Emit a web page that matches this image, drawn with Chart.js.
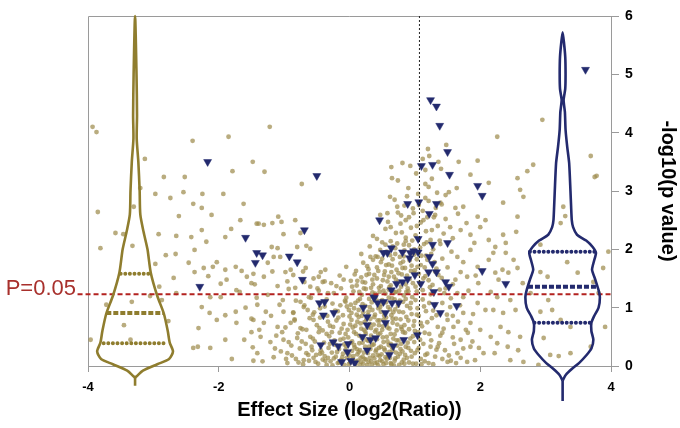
<!DOCTYPE html>
<html>
<head>
<meta charset="utf-8">
<script src="https://cdn.jsdelivr.net/npm/chart.js@4.4.1/dist/chart.umd.min.js"></script>
<style>
  body { margin: 0; background: #fff; }
  canvas { display: block; }
</style>
</head>
<body>
<canvas id="chart" width="680" height="428"></canvas>
<script>
// x ticks / y ticks
const xTicks = [-4, -2, 0, 2, 4];
const yTicks = [0, 1, 2, 3, 4, 5, 6];

// significance line and fold-change marker
const pLine = 1.23;
const pLabel = "P=0.05";
const foldLine = 1.07;

// tan dots, left side
const tanLeft = [
  [-3.93,4.10],[-3.87,4.01],[-2.40,3.86],[-1.85,3.93],[-1.22,4.10],[-3.13,3.55],[-2.84,3.24],[-2.52,3.24],
  [-1.79,3.34],[-1.48,3.50],[-1.30,3.33],[-0.73,3.12],[-2.97,2.95],[-2.74,2.88],[-2.54,2.98],[-2.25,2.95],
  [-1.93,2.95],[-2.39,2.78],[-2.26,2.71],[-1.62,2.78],[-3.85,2.64],[-2.61,2.57],[-2.11,2.59],[-1.67,2.50],
  [-1.42,2.44],[-3.58,2.28],[-3.46,2.26],[-2.92,2.26],[-2.65,2.23],[-2.42,2.21],[-2.26,2.33],[-2.19,2.13],
  [-1.90,2.21],[-1.81,2.35],[-3.81,2.02],[-2.81,1.90],[-2.66,1.92],[-2.37,1.99],[-2.46,1.77],[-2.23,1.68],
  [-2.09,1.70],[-2.03,1.78],[-1.90,1.65],[-1.74,1.70],[-1.65,1.63],[-1.57,1.53],[-2.97,1.75],[-2.37,1.61],
  [-2.16,1.54],[-2.69,1.51],[-1.97,1.41],[-1.88,1.48],[-1.73,1.30],[-1.50,1.42],[-1.47,1.58],[-2.91,1.36],
  [-2.65,1.25],[-2.13,1.18],[-1.97,1.18],[-1.68,1.27],[-1.42,1.17],[-3.72,1.05],[-2.87,1.13],[-2.26,1.01],
  [-2.14,0.91],[-1.90,0.87],[-1.74,0.93],[-1.59,1.00],[-1.50,0.81],[-2.77,0.77],[-2.31,0.65],[-2.03,0.79],
  [-1.73,0.74],[-1.50,0.58],[-3.96,0.45],[-2.39,0.31],[-2.32,0.33],[-2.13,0.31],[-1.90,0.45],[-1.61,0.45],
  [-1.80,0.12],[-1.47,0.09],[-3.30,2.73],[-3.32,2.06],[-3.33,1.10],[-3.35,0.45],[-3.05,1.20],[-3.45,0.70],
  [-3.20,3.05],[-1.39,2.44],[-1.31,2.42],[-1.18,2.45],[-1.09,2.56],[-1.04,2.47],[-1.01,2.26],[-0.83,2.50],
  [-0.75,2.28],[-1.19,2.04],[-1.10,2.02],[-0.80,2.04],[-0.66,2.06],[-0.60,2.01],[-1.25,1.77],[-1.16,1.87],
  [-1.06,1.87],[-0.98,1.61],[-0.90,1.65],[-0.86,1.56],[-0.67,1.68],[-0.44,1.61],[-0.37,1.65],[-0.47,1.53],
  [-0.41,1.44],[-1.31,1.53],[-1.10,1.37],[-0.83,1.34],[-0.60,1.36],[-1.02,1.13],[-0.75,1.10],[-0.70,1.01],
  [-0.06,1.10],[0.02,1.05],[-1.41,1.05],[-1.28,0.93],[-1.01,0.93],[-0.86,0.91],[-0.64,0.96],[-1.47,0.79],
  [-1.31,0.74],[-1.10,0.67],[-0.90,0.74],[-0.75,0.65],[-0.55,0.79],[-1.36,0.50],[-1.21,0.41],[-1.01,0.45],
  [-0.80,0.48],[-0.60,0.50],[-1.41,0.22],[-1.16,0.15],[-0.95,0.22],[-0.70,0.10],[-0.57,0.27],
  [-1.48,0.32],[-1.38,0.62],[-1.33,0.08],[-1.25,1.22],[-1.20,0.86],[-1.14,0.30],[-1.07,1.05],[-1.03,0.58],
  [-0.97,0.12],[-0.93,1.32],[-0.89,0.35],[-0.84,0.80],[-0.82,1.12],[-0.78,0.06],[-0.73,0.42],[-0.69,1.44],
  [-0.66,0.62],[-0.63,0.19],[-0.59,1.17],[-0.54,0.92],[-0.53,0.42],[-0.49,1.33],[-0.46,0.65],[-0.42,0.23],
  [-0.38,1.45],[-0.35,0.55],[-0.33,1.25],[-1.45,1.40],[-1.18,1.62],[-0.95,1.45],[-0.71,1.62],[-0.55,1.50]
];

// tan dots, dense centre cloud
const tanCloud = [
  [-0.95,0.05],[-0.82,0.12],[-0.71,0.03],[-0.62,0.09],[-0.55,0.14],[-0.48,0.04],[-0.41,0.11],[-0.35,0.02],
  [-0.29,0.08],[-0.24,0.13],[-0.18,0.05],[-0.13,0.10],[-0.08,0.02],[-0.04,0.14],[0.01,0.06],[0.05,0.12],
  [0.09,0.03],[0.13,0.09],[0.17,0.14],[0.21,0.04],[0.25,0.11],[0.29,0.07],[0.34,0.02],[0.38,0.13],
  [0.42,0.06],[0.47,0.10],[0.52,0.03],[0.57,0.12],[0.63,0.05],[0.69,0.09],[0.76,0.02],[0.83,0.11],
  [0.91,0.06],[1.02,0.04],[1.15,0.08],[1.28,0.03],[1.42,0.12],[1.63,0.05],[1.92,0.10],
  [-1.05,0.25],[-0.88,0.18],[-0.76,0.30],[-0.66,0.22],[-0.58,0.33],[-0.51,0.19],[-0.44,0.27],[-0.38,0.17],
  [-0.32,0.31],[-0.27,0.23],[-0.21,0.16],[-0.16,0.29],[-0.10,0.21],[-0.05,0.34],[0.00,0.18],[0.04,0.26],
  [0.08,0.32],[0.12,0.20],[0.16,0.27],[0.20,0.16],[0.24,0.33],[0.28,0.22],[0.32,0.29],[0.36,0.18],
  [0.40,0.25],[0.45,0.31],[0.49,0.20],[0.54,0.27],[0.59,0.17],[0.65,0.32],[0.71,0.23],[0.78,0.29],
  [0.85,0.19],[0.94,0.26],[1.06,0.31],[1.19,0.21],[1.33,0.28],[1.52,0.18],[1.74,0.30],
  [-1.12,0.52],[-0.93,0.41],[-0.79,0.56],[-0.67,0.38],[-0.56,0.47],[-0.47,0.58],[-0.39,0.40],[-0.31,0.51],
  [-0.23,0.44],[-0.15,0.57],[-0.08,0.37],[-0.02,0.49],[0.04,0.42],[0.10,0.55],[0.15,0.39],[0.19,0.48],
  [0.24,0.59],[0.29,0.43],[0.33,0.52],[0.37,0.37],[0.42,0.46],[0.47,0.56],[0.52,0.41],[0.57,0.50],
  [0.63,0.38],[0.69,0.54],[0.75,0.44],[0.82,0.58],[0.89,0.40],[0.97,0.51],[1.08,0.45],[1.22,0.55],
  [1.37,0.39],[1.58,0.49],[1.81,0.57],
  [-0.98,0.66],[-0.84,0.78],[-0.72,0.63],[-0.61,0.82],[-0.50,0.70],[-0.41,0.61],[-0.33,0.76],[-0.25,0.67],
  [-0.17,0.83],[-0.09,0.72],[-0.03,0.62],[0.03,0.79],[0.09,0.69],[0.14,0.84],[0.18,0.64],[0.23,0.75],
  [0.28,0.66],[0.32,0.81],[0.37,0.71],[0.41,0.62],[0.46,0.78],[0.51,0.68],[0.56,0.83],[0.61,0.64],
  [0.66,0.74],[0.72,0.61],[0.78,0.80],[0.84,0.70],[0.91,0.63],[0.99,0.77],[1.11,0.68],[1.26,0.82],
  [1.44,0.64],[1.66,0.76],
  [-0.86,0.92],[-0.69,1.04],[-0.56,0.88],[-0.45,0.99],[-0.34,0.86],[-0.26,1.07],[-0.18,0.94],[-0.10,0.87],
  [-0.04,1.02],[0.03,0.91],[0.09,1.08],[0.14,0.96],[0.19,0.86],[0.24,1.03],[0.29,0.93],[0.34,1.09],
  [0.39,0.88],[0.44,0.99],[0.49,1.06],[0.54,0.90],[0.59,1.01],[0.64,0.87],[0.70,0.97],[0.76,1.08],
  [0.82,0.92],[0.88,1.03],[0.95,0.89],[1.04,0.99],[1.17,0.94],[1.31,1.05],[1.49,0.88],
  [-0.62,1.18],[-0.47,1.29],[-0.35,1.14],[-0.24,1.25],[-0.13,1.33],[-0.05,1.17],[0.06,1.28],[0.13,1.12],
  [0.19,1.22],[0.25,1.32],[0.30,1.15],[0.35,1.26],[0.40,1.19],[0.45,1.34],[0.50,1.13],[0.55,1.24],
  [0.60,1.31],[0.65,1.16],[0.71,1.27],[0.77,1.12],[0.83,1.21],[0.89,1.33],[0.96,1.18],[1.03,1.28],
  [1.12,1.14],[1.24,1.23],[1.38,1.31],[1.55,1.16],
  [-0.28,1.42],[-0.15,1.55],[0.02,1.46],[0.11,1.38],[0.18,1.52],[0.24,1.43],[0.30,1.58],[0.36,1.40],
  [0.42,1.50],[0.48,1.37],[0.53,1.56],[0.58,1.45],[0.63,1.38],[0.68,1.53],[0.74,1.44],[0.80,1.57],
  [0.86,1.40],[0.92,1.49],[0.99,1.59],[1.07,1.43],[1.16,1.54],[1.27,1.39],[1.41,1.51],
  [-0.05,1.70],[0.10,1.63],[0.21,1.77],[0.29,1.66],[0.36,1.82],[0.42,1.69],[0.48,1.78],[0.54,1.62],
  [0.60,1.74],[0.66,1.83],[0.72,1.65],[0.78,1.76],[0.85,1.68],[0.92,1.81],[1.00,1.64],[1.09,1.73],
  [1.19,1.82],[1.33,1.67],
  [0.18,1.92],[0.31,2.05],[0.40,1.88],[0.47,1.99],[0.55,2.08],[0.62,1.90],[0.70,2.02],[0.77,1.87],
  [0.84,1.98],[0.91,2.07],[0.99,1.91],[1.08,2.03],[1.17,1.89],[1.28,2.00],[1.39,2.09],
  [0.42,2.18],[0.55,2.35],[0.63,2.14],[0.71,2.28],[0.78,2.44],[0.86,2.20],[0.94,2.37],[1.01,2.24],
  [1.09,2.46],[1.17,2.31],[1.24,2.16],[1.35,2.40],[1.44,2.27],
  [0.58,2.62],[0.69,2.85],[0.79,2.58],[0.88,2.91],[0.97,2.70],[1.05,2.95],[1.12,2.66],[1.21,2.83],
  [1.29,2.55],[1.41,2.77],[1.47,2.93],
  [0.74,3.18],[1.02,3.30],[1.12,3.55],[1.26,3.21],[1.40,3.38],[1.20,3.72],[1.22,3.60]
];

// tan dots, second pass over the dense cloud
const tanCloud2 = [
  [-0.52,0.07],[-0.45,0.21],[-0.37,0.09],[-0.30,0.38],[-0.26,0.01],[-0.19,0.24],[-0.14,0.45],[-0.11,0.15],
  [-0.06,0.28],[-0.01,0.03],[0.02,0.40],[0.06,0.17],[0.10,0.08],[0.11,0.29],[0.15,0.52],[0.18,0.07],
  [0.22,0.23],[0.26,0.45],[0.27,0.02],[0.31,0.14],[0.35,0.36],[0.39,0.05],[0.43,0.19],[0.44,0.55],
  [0.48,0.33],[0.50,0.08],[0.55,0.15],[0.58,0.42],[0.61,0.24],[0.64,0.03],[0.67,0.47],[0.70,0.13],
  [0.73,0.35],[0.77,0.21],[0.80,0.06],[0.86,0.33],[0.88,0.14],[0.93,0.47],[0.97,0.04],[1.00,0.22],
  [1.05,0.58],[1.09,0.12],[1.13,0.38],[1.21,0.05],[1.25,0.44],[1.31,0.16],[1.39,0.52],[1.46,0.27],
  [1.55,0.09],[1.60,0.38],[1.70,0.14],[1.88,0.42],[1.98,0.31],
  [-0.45,0.83],[-0.38,1.02],[-0.30,0.69],[-0.22,0.95],[-0.12,0.64],[-0.07,1.12],[0.00,0.85],[0.05,0.66],
  [0.07,0.99],[0.12,0.76],[0.16,1.15],[0.21,0.92],[0.22,0.62],[0.26,0.80],[0.31,1.01],[0.33,0.65],
  [0.38,0.84],[0.42,1.12],[0.45,0.70],[0.48,0.93],[0.52,0.79],[0.56,1.09],[0.58,0.66],[0.62,0.97],
  [0.66,0.81],[0.69,1.14],[0.73,0.71],[0.76,0.93],[0.80,0.63],[0.86,1.15],[0.87,0.84],[0.93,0.99],
  [0.98,0.69],[1.01,1.13],[1.06,0.86],[1.14,1.02],[1.19,0.75],[1.28,0.95],[1.35,0.67],[1.42,1.08],
  [1.58,0.86],[1.69,1.04],[1.78,0.62],[1.89,0.89],
  [-0.20,1.37],[-0.09,1.48],[0.04,1.36],[0.08,1.57],[0.15,1.27],[0.20,1.44],[0.27,1.71],[0.33,1.34],
  [0.38,1.56],[0.43,1.87],[0.46,1.27],[0.51,1.47],[0.56,1.73],[0.61,1.35],[0.64,1.61],[0.70,1.92],
  [0.71,1.48],[0.76,1.29],[0.81,1.68],[0.83,1.88],[0.88,1.55],[0.90,1.28],[0.95,1.72],[0.97,1.42],
  [1.03,1.83],[1.06,1.58],[1.12,1.30],[1.15,1.69],[1.21,1.47],[1.30,1.78],[1.36,1.56],[1.45,1.25],
  [1.50,1.69],[1.58,1.40],[1.70,1.61],[1.82,1.29],[1.93,1.55],
  [0.36,2.23],[0.50,2.12],[0.59,2.47],[0.66,2.05],[0.74,2.63],[0.80,2.29],[0.83,2.08],[0.91,2.55],
  [0.96,2.15],[1.03,2.40],[1.06,2.76],[1.14,2.09],[1.19,2.55],[1.26,2.33],[1.32,2.71],[1.38,2.15],
  [1.47,2.52],[1.58,2.19],[1.66,2.61],[1.79,2.45],[1.91,2.11],[0.62,2.90],[0.84,2.75],[1.16,3.12],
  [1.34,2.97]
];

// tan dots, third pass over the densest part
const tanCloud3 = [
  [-0.33,0.14],[-0.21,0.36],[-0.16,0.06],[-0.09,0.47],[-0.03,0.22],[0.03,0.09],[0.07,0.36],[0.14,0.24],
  [0.16,0.02],[0.20,0.40],[0.23,0.12],[0.30,0.33],[0.33,0.08],[0.37,0.46],[0.41,0.28],[0.44,0.01],
  [0.46,0.17],[0.51,0.49],[0.53,0.30],[0.56,0.05],[0.60,0.36],[0.62,0.14],[0.66,0.27],[0.68,0.01],
  [0.72,0.44],[0.74,0.16],[0.79,0.38],[0.81,0.25],[0.84,0.04],[0.90,0.31],[0.95,0.16],[0.99,0.41],
  [1.04,0.27],[1.10,0.03],[1.16,0.19],[1.24,0.33],
  [-0.27,0.58],[-0.20,0.78],[-0.14,1.04],[-0.06,0.55],[-0.01,0.96],[0.01,0.71],[0.07,0.58],[0.11,0.88],
  [0.17,0.73],[0.20,1.06],[0.25,0.55],[0.28,0.87],[0.31,0.72],[0.35,0.96],[0.39,0.59],[0.43,0.78],
  [0.47,1.01],[0.50,0.62],[0.53,0.86],[0.57,0.73],[0.60,1.17],[0.63,0.55],[0.67,0.92],[0.71,0.81],
  [0.74,1.03],[0.79,0.67],[0.82,1.10],[0.85,0.57],[0.90,0.78],[0.94,1.08],[1.00,0.60],[1.03,0.88],
  [1.09,0.74],[1.15,0.57],[1.22,1.08],[1.33,0.87],
  [0.12,1.46],[0.22,1.33],[0.26,1.56],[0.32,1.87],[0.35,1.48],[0.39,1.24],[0.44,1.63],[0.50,1.84],
  [0.52,1.29],[0.57,1.96],[0.60,1.53],[0.65,1.72],[0.69,1.26],[0.73,2.10],[0.75,1.59],[0.79,1.36],
  [0.82,1.79],[0.86,2.14],[0.87,1.27],[0.94,1.63],[0.99,2.00],[1.01,1.36],[1.04,1.70],[1.10,1.89],
  [1.13,1.50],[1.18,2.12],[1.23,1.35],[1.25,1.92],[1.31,1.62],[1.42,1.84],[1.47,1.33],[1.56,1.96]
];

// tan dots, right side
const tanRight = [
  [2.26,3.93],[1.48,3.79],[0.81,3.48],[0.64,3.41],[0.93,3.43],[1.16,3.36],[1.36,3.50],[1.67,3.50],
  [1.96,3.52],[2.13,3.14],[1.85,3.28],[1.64,3.05],[0.65,3.22],[0.90,3.05],[1.21,3.07],[1.52,2.98],
  [0.73,2.73],[1.16,2.88],[1.39,2.80],[1.62,2.71],[1.74,2.73],[1.96,2.56],[2.08,2.50],[0.47,2.59],
  [0.63,2.38],[0.86,2.50],[0.98,2.62],[1.13,2.50],[1.31,2.59],[1.54,2.38],[1.70,2.33],[1.85,2.25],
  [2.00,2.38],[2.13,2.16],[2.23,2.04],[1.85,1.99],[1.65,1.87],[1.74,1.78],[1.96,1.70],[2.13,1.82],
  [2.23,1.60],[1.80,1.53],[1.62,1.48],[1.97,1.42],[2.16,1.27],[1.74,1.18],[1.96,1.08],[2.08,0.96],
  [1.74,0.91],[1.85,0.74],[2.00,0.62],[2.16,0.50],[1.59,0.67],[1.70,0.45],[1.85,0.33],[2.05,0.22],
  [1.65,0.22],[1.50,0.07],[1.80,0.07],[1.35,0.33],[1.42,0.57],[1.50,0.79],[1.54,1.01],[1.65,1.25],
  [2.95,4.22],[2.81,3.45],[2.72,3.34],[2.57,3.22],[2.61,3.02],[2.66,2.90],[2.35,2.80],[2.57,2.56],
  [2.35,2.25],[2.39,2.11],[2.55,2.30],[2.20,1.94],[2.39,1.94],[2.51,1.82],[2.34,1.65],[2.43,1.60],
  [2.57,1.68],[2.28,1.48],[2.65,1.42],[2.26,1.18],[2.46,1.13],[2.54,0.96],[2.35,0.91],[2.20,0.96],
  [2.31,0.67],[2.43,0.58],[2.61,0.50],[2.26,0.39],[2.42,0.33],[2.58,0.27],[2.22,0.22],[2.46,0.10],
  [2.66,0.07],[3.69,3.60],[3.78,3.26],[3.75,3.24],[3.27,2.73],[3.30,2.57],[3.23,2.45],[2.92,2.08],
  [3.96,1.96],[3.33,1.78],[3.88,1.68],[2.92,1.61],[3.49,1.60],[3.03,1.53],[3.73,1.44],[2.77,1.25],
  [3.81,1.25],[3.04,1.13],[2.92,0.93],[3.10,0.96],[3.23,0.79],[3.91,0.67],[3.38,0.67],[2.97,0.48],
  [3.69,0.33],[3.07,0.19],[3.20,0.17],[3.38,0.22],[2.89,0.02]
];

// navy triangles
const navyPts = [
  [-2.17,3.50],[-0.50,3.26],[-1.59,2.20],[-1.42,1.94],[-1.44,1.77],[-2.29,1.36],[-1.33,1.90],[-0.69,2.33],
  [-0.92,1.88],[-0.80,1.78],[-0.72,1.48],[-0.46,1.08],[-0.38,1.10],[-0.40,0.87],[-0.24,0.91],[-0.44,0.36],
  [-0.25,0.41],[-0.17,0.34],[-0.02,0.38],[-0.03,0.24],[-0.12,0.07],[0.02,0.09],[0.08,0.05],[0.21,1.00],
  [0.27,0.84],[0.27,0.70],[0.20,0.50],[0.32,0.45],[0.27,0.27],[0.38,1.17],[0.43,1.08],[0.46,2.50],
  [1.24,4.56],[1.33,4.45],[1.38,4.12],[1.50,3.67],[1.10,3.43],[1.27,3.45],[1.53,3.28],[1.96,3.09],
  [2.03,2.92],[0.89,2.78],[1.06,2.81],[1.33,2.78],[1.22,2.61],[1.05,2.18],[1.27,2.08],[1.50,2.11],
  [0.52,1.94],[0.58,1.94],[0.64,2.02],[0.81,1.95],[0.93,1.94],[0.98,1.97],[1.05,1.95],[0.92,1.85],
  [1.22,1.87],[1.27,1.75],[1.21,1.61],[1.33,1.61],[2.03,1.63],[1.00,1.56],[0.89,1.49],[0.81,1.44],
  [0.72,1.41],[0.64,1.30],[1.09,1.41],[1.47,1.44],[1.52,1.36],[1.29,1.27],[1.30,1.05],[1.64,1.03],
  [1.39,0.91],[0.37,1.18],[0.52,1.10],[0.65,1.08],[0.75,1.08],[0.55,0.91],[0.55,0.74],[0.40,0.48],
  [0.83,0.45],[1.04,0.53],[0.67,0.34],[0.61,0.19],[2.39,1.41],[3.61,5.08]
];

// violin shapes (y level, half width in x units)
const tanViolinX = -3.28;
const tanViolinY  = [-0.2,-0.17,-0.08,0.03,0.12,0.25,0.4,0.6,0.9,1.2,1.6,2.0,2.3,2.6,3.0,3.5,3.9,4.3,5.0,6.0];
const tanViolinHW = [0,0.03,0.12,0.34,0.52,0.58,0.53,0.50,0.44,0.34,0.24,0.19,0.13,0.08,0.07,0.05,0.025,0.03,0.022,0];
const tanTail = [-0.2, -0.34];
const tanQuart = [0.39, 0.91, 1.58];
const tanQuartHW = [0.48, 0.44, 0.22];

const navyViolinX = 3.26;
const navyViolinY  = [-0.25,-0.15,-0.05,0.05,0.18,0.3,0.45,0.6,0.74,0.85,1.0,1.18,1.3,1.48,1.65,1.8,1.94,2.04,2.15,2.25,2.38,2.5,2.73,3.0,3.48,3.76,4.05,4.35,4.56,4.75,5.0,5.3,5.55,5.72];
const navyViolinHW = [0,0.05,0.14,0.25,0.36,0.44,0.47,0.44,0.44,0.48,0.55,0.57,0.55,0.50,0.45,0.48,0.51,0.46,0.36,0.22,0.16,0.14,0.13,0.12,0.10,0.07,0.045,0.035,0.015,0.04,0.045,0.04,0.02,0];
const navyTail = [-0.25, -0.6];
const navyQuart = [0.74, 1.36, 1.96];
const navyQuartHW = [0.43, 0.53, 0.50];

const TAN = "rgba(158,140,78,0.72)";
const TAN_LINE = "#8f7d2e";
const NAVY = "#232a6e";

const toXY = arr => arr.map(p => ({ x: p[0], y: p[1] }));

function violin(cx, ys, hw) {
  const right = ys.map((y, i) => ({ x: cx + hw[i], y }));
  const left = ys.map((y, i) => ({ x: cx - hw[i], y })).reverse().slice(1);
  return right.concat(left);
}

function lineSet(data, color, width, dash, extra) {
  return Object.assign({
    data, showLine: true, pointRadius: 0, borderColor: color, borderWidth: width,
    borderDash: dash || [], fill: false, clip: false, order: 0
  }, extra || {});
}

const datasets = [
  { data: toXY(tanLeft.concat(tanCloud, tanCloud2, tanCloud3, tanRight)), pointRadius: 2.4,
    pointBackgroundColor: TAN, pointBorderWidth: 0, order: 5 },
  { data: toXY(navyPts), pointStyle: "triangle", rotation: 180, pointRadius: 4.6,
    pointBackgroundColor: NAVY, pointBorderColor: NAVY, pointBorderWidth: 0.5, order: 4 },
  lineSet([{ x: -4.16, y: pLine }, { x: 4, y: pLine }], "#b3221f", 2.2, [5, 3], { order: 3 }),
  lineSet([{ x: foldLine, y: 0 }, { x: foldLine, y: 6 }], "#222", 1, [2, 2], { order: 3 }),
  lineSet(violin(tanViolinX, tanViolinY, tanViolinHW), TAN_LINE, 2.6, null, { tension: 0.25 }),
  lineSet(tanTail.map(y => ({ x: tanViolinX, y })), TAN_LINE, 2.6),
  lineSet(violin(navyViolinX, navyViolinY, navyViolinHW), NAVY, 2.6, null, { tension: 0.2 }),
  lineSet(navyTail.map(y => ({ x: navyViolinX, y })), NAVY, 2.6)
];

tanQuart.forEach((q, i) => {
  const pts = [{ x: tanViolinX - tanQuartHW[i], y: q }, { x: tanViolinX + tanQuartHW[i], y: q }];
  datasets.push(i === 1
    ? lineSet(pts, TAN_LINE, 4, [5, 2])
    : lineSet(pts, TAN_LINE, 4, [0, 4.6], { borderCapStyle: "round" }));
});
navyQuart.forEach((q, i) => {
  const pts = [{ x: navyViolinX - navyQuartHW[i], y: q }, { x: navyViolinX + navyQuartHW[i], y: q }];
  datasets.push(i === 1
    ? lineSet(pts, NAVY, 4, [5, 2])
    : lineSet(pts, NAVY, 4, [0, 4.6], { borderCapStyle: "round" }));
});

// frame on top/left and the P label
const extras = {
  id: "extras",
  beforeDatasetsDraw(chart) {
    const { ctx, chartArea: a } = chart;
    ctx.save();
    ctx.strokeStyle = "#9a9a9a";
    ctx.lineWidth = 1;
    ctx.beginPath();
    ctx.moveTo(a.left + 0.5, a.bottom);
    ctx.lineTo(a.left + 0.5, a.top + 0.5);
    ctx.lineTo(a.right, a.top + 0.5);
    ctx.stroke();
    ctx.restore();
  },
  afterDraw(chart) {
    const { ctx, chartArea: a } = chart;
    const y = chart.scales.y.getPixelForValue(pLine);
    ctx.save();
    ctx.fillStyle = "#a8302c";
    ctx.font = "22px 'Liberation Sans', Arial, sans-serif";
    ctx.textAlign = "right";
    ctx.textBaseline = "middle";
    ctx.fillText(pLabel, a.left - 12, y - 5);
    ctx.restore();
  }
};

Chart.defaults.font.family = "'Liberation Sans', Arial, sans-serif";
Chart.defaults.color = "#000";

new Chart(document.getElementById("chart"), {
  type: "scatter",
  data: { datasets },
  options: {
    responsive: false,
    animation: false,
    layout: { padding: { left: 88, top: 16, right: 0, bottom: 0 } },
    plugins: { legend: { display: false }, tooltip: { enabled: false } },
    scales: {
      x: {
        type: "linear", min: -4, max: 4, position: "bottom",
        afterBuildTicks: s => { s.ticks = xTicks.map(v => ({ value: v })); },
        afterFit: s => { s.height = 62; },
        ticks: { font: { size: 13, weight: "bold" }, padding: 8, color: "#000" },
        grid: { drawOnChartArea: false, tickLength: 6, color: "#9a9a9a" },
        border: { color: "#9a9a9a" },
        title: { display: true, text: "Effect Size (log2(Ratio))", font: { size: 20, weight: "bold" },
                 color: "#000", padding: { top: 0, bottom: 6 } }
      },
      y: {
        type: "linear", min: 0, max: 6, position: "right",
        afterBuildTicks: s => { s.ticks = yTicks.map(v => ({ value: v })); },
        afterFit: s => { s.width = 69; },
        ticks: { font: { size: 14, weight: "bold" }, padding: 6, color: "#000" },
        grid: { drawOnChartArea: false, tickLength: 8, color: "#9a9a9a" },
        border: { color: "#9a9a9a" },
        title: { display: true, text: "-log10(p value)", font: { size: 20, weight: "bold" },
                 color: "#000", padding: { top: 0, bottom: 4 } }
      }
    }
  },
  plugins: [extras]
});
</script>
</body>
</html>
